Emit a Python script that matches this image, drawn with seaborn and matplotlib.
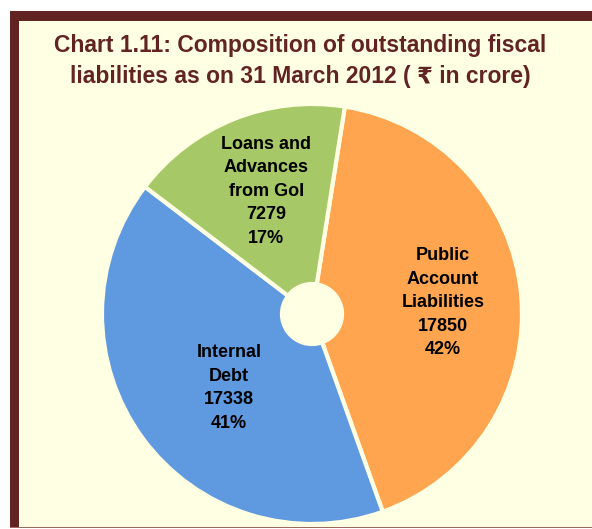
import numpy as np
import matplotlib
matplotlib.use("Agg")
import matplotlib.pyplot as plt
from matplotlib.patches import Rectangle
import seaborn as sns

# ---- data ----
categories = ["Public\nAccount\nLiabilities", "Internal\nDebt", "Loans and\nAdvances\nfrom GoI"]
values = [17850, 17338, 7279]
percents = ["42%", "41%", "17%"]
colors = ["#FFA54F", "#5F9AE0", "#A6C867"]
title_lines = ["Chart 1.11: Composition of outstanding fiscal",
               "liabilities as on 31 March 2012 ( \u20b9 in crore)"]

sns.set_theme(style="white")
plt.rcParams['font.family'] = ['Liberation Sans', 'DejaVu Sans']

W, H = 592, 529
fig = plt.figure(figsize=(W / 100, H / 100), dpi=100)
fig.patch.set_facecolor("white")

def fx(px):
    return px / W
def fy(py):
    return 1 - py / H

dark = "#622423"
for (x0, y0, x1, y1, c) in [(10, 11, 600, 528, "#9C6A5E"),
                            (10, 11, 600, 527, dark),
                            (19, 21, 600, 527, "#FFFFE4")]:
    fig.patches.append(Rectangle((fx(x0), fy(y1)), fx(x1) - fx(x0), fy(y0) - fy(y1),
                                 transform=fig.transFigure, facecolor=c, edgecolor="none",
                                 zorder=-10))

for i, line in enumerate(title_lines):
    fig.text(fx(300), fy(46 + 30 * i), line, ha="center", va="center", fontsize=16.5,
             fontweight="bold", color=dark)

cx, cy, R = 312, 314, 210
ax = fig.add_axes([fx(cx - R), fy(cy + R), 2 * R / W, 2 * R / H])
ax.set_facecolor("none")
wedges, _ = ax.pie(values, colors=colors, startangle=81, counterclock=False,
                   radius=1, wedgeprops=dict(width=0.857, edgecolor="#FFFFE4", linewidth=3))
ax.set_xlim(-1, 1)
ax.set_ylim(-1, 1)
ax.set_aspect("equal")
ax.axis("off")

dists = [0.626, 0.53, 0.624]
ang_offsets = [-0.5, 5.5, -1.5]
for w, cat, v, p, d, off in zip(wedges, categories, values, percents, dists, ang_offsets):
    ang = np.deg2rad((w.theta1 + w.theta2) / 2 + off)
    ax.text(d * np.cos(ang), d * np.sin(ang), f"{cat}\n{v}\n{p}", ha="center", va="center",
            fontsize=13, fontweight="bold", color="black", linespacing=1.5)

fig.savefig("out.png", dpi=100, facecolor=fig.get_facecolor())
